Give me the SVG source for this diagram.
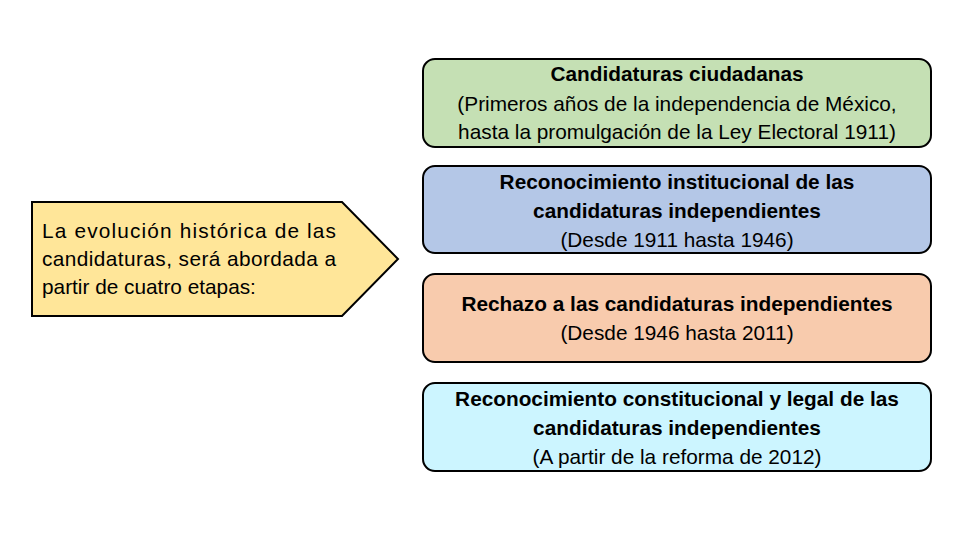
<svg xmlns="http://www.w3.org/2000/svg" width="960" height="540" viewBox="0 0 960 540">
<style>
.box{stroke:#000;stroke-width:2}
text{font-family:"Liberation Sans","Noto Sans",Arial,sans-serif;font-size:20.8px;fill:#000}
.c{text-anchor:middle}
.b{font-weight:bold}
</style>
<rect width="960" height="540" fill="#fff"/>
<g id="intro">
<polygon class="box" points="32,202 342,202 398,259 342,316 32,316" fill="#FFE699"/>
<text x="42" y="238" textLength="294" lengthAdjust="spacing">La evolución histórica de las</text>
<text x="42" y="266" textLength="294" lengthAdjust="spacing">candidaturas, será abordada a</text>
<text x="42" y="294">partir de cuatro etapas:</text>
</g>
<g id="etapa1">
<rect class="box" x="423" y="59" width="508" height="88" rx="12" fill="#C5E0B4"/>
<text class="c b" x="677" y="81">Candidaturas ciudadanas</text>
<text class="c" x="677" y="111">(Primeros años de la independencia de México,</text>
<text class="c" x="677" y="139">hasta la promulgación de la Ley Electoral 1911)</text>
</g>
<g id="etapa2">
<rect class="box" x="423" y="166" width="508" height="87" rx="12" fill="#B4C7E7"/>
<text class="c b" x="677" y="189">Reconocimiento institucional de las</text>
<text class="c b" x="677" y="218">candidaturas independientes</text>
<text class="c" x="677" y="247">(Desde 1911 hasta 1946)</text>
</g>
<g id="etapa3">
<rect class="box" x="423" y="274" width="508" height="88" rx="12" fill="#F8CBAD"/>
<text class="c b" x="677" y="311">Rechazo a las candidaturas independientes</text>
<text class="c" x="677" y="340">(Desde 1946 hasta 2011)</text>
</g>
<g id="etapa4">
<rect class="box" x="423" y="383" width="508" height="88" rx="12" fill="#CCF5FF"/>
<text class="c b" x="677" y="406">Reconocimiento constitucional y legal de las</text>
<text class="c b" x="677" y="435">candidaturas independientes</text>
<text class="c" x="677" y="464">(A partir de la reforma de 2012)</text>
</g>
<g id="connectors"></g>
</svg>
